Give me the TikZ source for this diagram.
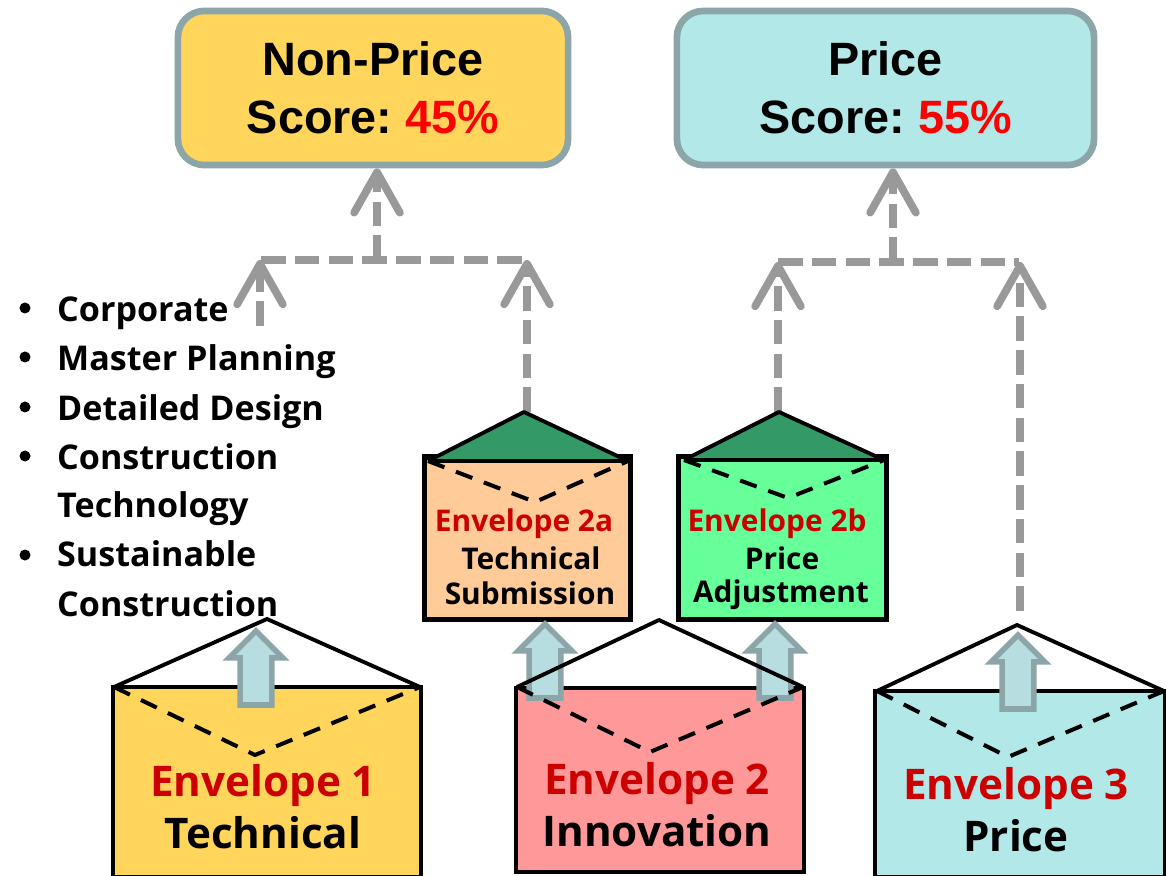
\documentclass[tikz,border=0pt]{standalone}
\usepackage{fontspec}
\setmainfont{Liberation Sans}
\newfontfamily\envfont{Open Sans}
\usetikzlibrary{arrows.meta,shapes.arrows}
\definecolor{edgeteal}{HTML}{8BA5A8}
\definecolor{paleteal}{HTML}{B7DDE1}
\definecolor{sand}{HTML}{FFD55C}
\definecolor{aqua}{HTML}{B2E8E8}
\definecolor{peach}{HTML}{FFCC99}
\definecolor{mint}{HTML}{66FF99}
\definecolor{rose}{HTML}{FF9999}
\definecolor{flapgreen}{HTML}{339966}
\definecolor{linkgrey}{HTML}{999999}
\definecolor{envred}{HTML}{CC0000}
\tikzset{
  scorebox/.style={draw=edgeteal, line width=1.9pt, rounded corners=7.5pt, minimum height=1.54cm, inner sep=0pt, align=center, font=\fontsize{13.3}{16.4}\selectfont\bfseries},
  envbox/.style={draw=black, line width=1.3pt, inner sep=0pt, outer sep=0pt},
  flapline/.style={line width=1.1pt, line join=round},
  foldline/.style={line width=1.15pt, dash pattern=on 5pt off 3.5pt},
  linkline/.style={draw=linkgrey, line width=2.2pt, dash pattern=on 7pt off 2.6pt},
  linktip/.style={-{Straight Barb[length=11.5pt,width=13pt,line width=2.2pt,round]}},
  pushup/.style={single arrow, draw=edgeteal, fill=paleteal, line width=1.6pt, shape border rotate=90, inner sep=0.13cm, outer sep=0pt, single arrow head extend=0.11cm, single arrow head indent=0pt, minimum height=0.74cm, anchor=tip},
  bigenv/.style={font=\envfont\fontsize{12}{14}\selectfont\bfseries},
  smallenv/.style={font=\envfont\fontsize{8.5}{10}\selectfont\bfseries},
  listline/.style={anchor=base west, inner sep=0pt, font=\envfont\fontsize{9.7}{12}\selectfont\bfseries}
}
\begin{document}
\begin{tikzpicture}[x=0.01cm, y=-0.01cm]
\useasboundingbox (0, 0) rectangle (1166, 876);

\node[scorebox, fill=sand, minimum width=3.9cm] (nonprice) at (373, 88) {Non-Price\\Score:\hspace{0.28em}\textcolor{red}{45\%}};
\node[scorebox, fill=aqua, minimum width=4.17cm] (price) at (885.5, 88) {Price\\Score:\hspace{0.28em}\textcolor{red}{55\%}};

\coordinate (joinNP) at (377, 260);
\coordinate (cornerNPa) at (261, 260);
\coordinate (cornerNPb) at (527, 260);
\coordinate (joinP) at (893, 262);
\coordinate (cornerPa) at (778, 262);
\coordinate (cornerPb) at (1019, 262);
\coordinate (startCorp) at (260, 326);
\coordinate (apexTwoA) at (527, 412);
\coordinate (apexTwoB) at (778, 412);
\coordinate (startThree) at (1020, 611);

\draw[linkline, linktip] (joinNP) -- (joinNP |- nonprice.south);
\draw[linkline, linktip] (joinP) -- (joinP |- price.south);
\draw[linkline] (cornerNPa) -- (cornerNPb);
\draw[linkline] (cornerPa) -- (cornerPb);
\draw[linkline, linktip] (startCorp) -- (startCorp |- cornerNPa);
\draw[linkline, linktip] (apexTwoA) -- (apexTwoA |- cornerNPb);
\draw[linkline, linktip] (apexTwoB) -- (apexTwoB |- cornerPa);
\draw[linkline, linktip] (startThree) -- (startThree |- cornerPb);

\fill (25, 308) circle (5.5);
\fill (25, 357) circle (5.5);
\fill (25, 407) circle (5.5);
\fill (25, 456) circle (5.5);
\fill (25, 555) circle (5.5);
\node[listline] (corporate) at (56.5, 321) {Corporate};
\node[listline] (master) at (56.5, 370) {Master Planning};
\node[listline] (detailed) at (56.5, 420) {Detailed Design};
\node[listline] (construct) at (56.5, 469) {Construction};
\node[listline] (technology) at (56.5, 518) {Technology};
\node[listline] (sustain) at (56.5, 567) {Sustainable};
\node[listline] (construction) at (56.5, 616) {Construction};

\node[envbox, fill=peach, minimum width=2.06cm, minimum height=1.63cm] (envTwoA) at (527.5, 538) {};
\fill[flapgreen] (524, 412) -- (428, 461) -- (628, 461) -- cycle;
\draw[flapline] (428, 461) -- (524, 412) -- (628, 461);
\draw[flapline] (428, 461) -- (628, 461);
\draw[foldline] (428, 461) -- (535, 502) -- (628, 461);
\node[smallenv, text=envred] (labelTwoA) at (524, 524) {Envelope 2a};
\node[smallenv] (techTwoA) at (531, 558) {Technical};
\node[smallenv] (subTwoA) at (530, 593) {Submission};

\node[envbox, fill=mint, minimum width=2.08cm, minimum height=1.63cm] (envTwoB) at (782.5, 538) {};
\fill[flapgreen] (779, 412) -- (684, 460) -- (884, 460) -- cycle;
\draw[flapline] (684, 460) -- (779, 412) -- (884, 460);
\draw[flapline] (684, 460) -- (884, 460);
\draw[foldline] (684, 460) -- (788, 498) -- (884, 460);
\node[smallenv, text=envred] (labelTwoB) at (777, 524) {Envelope 2b};
\node[smallenv] (techTwoB) at (782, 558) {Price};
\node[smallenv] (subTwoB) at (781, 595) {Adjustment};

\node[envbox, fill=sand, minimum width=3.08cm, minimum height=1.9cm] (envOne) at (267, 782) {};
\node[pushup] (pushOne) at (256, 631) {};
\draw[flapline] (114, 687) -- (267, 619) -- (420, 687);
\draw[foldline] (114, 687) -- (255, 755) -- (420, 687);
\node[bigenv, text=envred] (labelOne) at (263, 786) {Envelope 1};
\node[bigenv] (techOne) at (263, 833) {Technical};

\node[envbox, fill=rose, minimum width=2.88cm, minimum height=1.84cm] (envTwo) at (660, 780) {};
\node[pushup] (pushTwoA) at (545, 624) {};
\node[pushup] (pushTwoB) at (775, 624) {};
\draw[flapline] (517, 687) -- (659, 620) -- (803, 687);
\draw[foldline] (517, 687) -- (650, 752) -- (803, 687);
\node[bigenv, text=envred] (labelTwo) at (657, 784) {Envelope 2};
\node[bigenv] (innovation) at (657, 831) {Innovation};

\node[envbox, fill=aqua, minimum width=2.9cm, minimum height=1.86cm] (envThree) at (1020, 784) {};
\node[pushup] (pushThree) at (1018, 635) {};
\draw[flapline] (877, 691) -- (1017, 625) -- (1164, 691);
\draw[foldline] (877, 691) -- (1008, 757) -- (1164, 691);
\node[bigenv, text=envred] (labelThree) at (1016, 789) {Envelope 3};
\node[bigenv] (priceThree) at (1016, 836) {Price};
\end{tikzpicture}
\end{document}
